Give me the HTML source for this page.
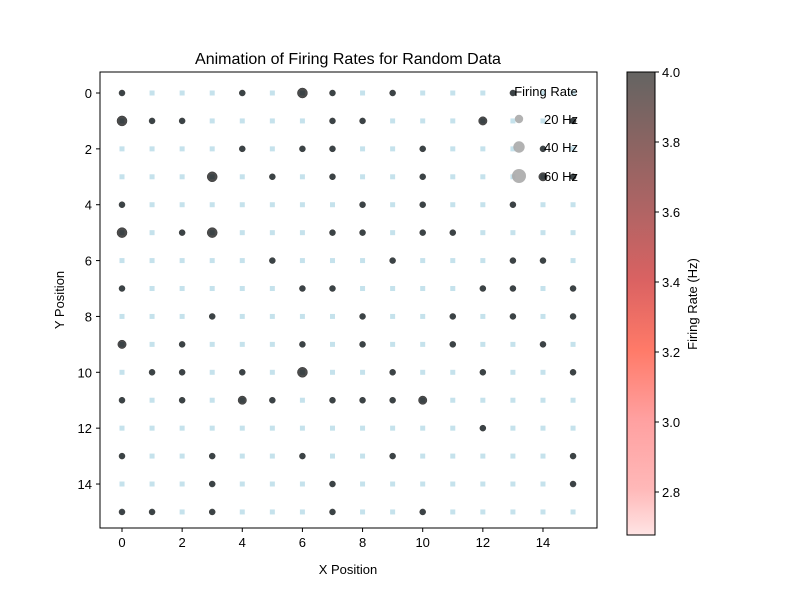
<!DOCTYPE html>
<html><head><meta charset="utf-8"><style>
body{margin:0;background:#fff}
svg{font-family:"Liberation Sans","DejaVu Sans",sans-serif}
</style></head><body>
<svg width="800" height="600" viewBox="0 0 800 600" xmlns="http://www.w3.org/2000/svg">
<defs>
<linearGradient id="cb" x1="0" y1="1" x2="0" y2="0">
<stop offset="0" stop-color="#ffe4e4"/>
<stop offset="0.1" stop-color="#ffb8b8"/>
<stop offset="0.25" stop-color="#ffa0a0"/>
<stop offset="0.4" stop-color="#ff7a68"/>
<stop offset="0.55" stop-color="#da6262"/>
<stop offset="0.7" stop-color="#b06464"/>
<stop offset="0.85" stop-color="#8a6462"/>
<stop offset="1" stop-color="#646462"/>
</linearGradient>
</defs>
<text x="348" y="64" font-size="16" text-anchor="middle">Animation of Firing Rates for Random Data</text>
<g id="plot"></g>
<rect x="100" y="72" width="497" height="456" fill="none" stroke="#000" stroke-width="1"/>
<text x="348" y="574" font-size="13" text-anchor="middle">X Position</text>
<text transform="translate(64,300) rotate(-90)" font-size="13" text-anchor="middle">Y Position</text>
<g>
<text x="546" y="96" font-size="13" text-anchor="middle">Firing Rate</text>
<circle cx="519" cy="119" r="4.2" fill="#aaa" fill-opacity="0.9"/>
<text x="544" y="124" font-size="13">20 Hz</text>
<circle cx="519" cy="147" r="5.7" fill="#aaa" fill-opacity="0.9"/>
<text x="544" y="152" font-size="13">40 Hz</text>
<circle cx="519" cy="176" r="7" fill="#aaa" fill-opacity="0.9"/>
<text x="544" y="181" font-size="13">60 Hz</text>
</g>
<rect x="627" y="72" width="28" height="463" fill="url(#cb)" stroke="#000" stroke-width="1"/>
<g id="cbticks"></g>
<text transform="translate(697,304) rotate(-90)" font-size="13" text-anchor="middle">Firing Rate (Hz)</text>
</svg>
<script>
const xTicks=[0,2,4,6,8,10,12,14];
const yTicks=[0,2,4,6,8,10,12,14];
const cbTicks=["2.8","3.0","3.2","3.4","3.6","3.8","4.0"];
const gridN=16;
const activeX=[0,4,6,7,9,13, 0,1,2,7,8,12,15, 4,6,7,10,14, 3,5,7,10,14,15, 0,8,10,13, 0,2,3,7,8,10,11, 5,9,13,14, 0,6,7,12,13,15, 3,8,11,13,15, 0,2,6,8,11,14, 1,2,4,6,9,12,15, 0,2,4,5,7,8,9,10, 12, 0,3,6,9,15, 3,7,15, 0,1,3,7,10];
const activeY=[0,0,0,0,0,0, 1,1,1,1,1,1,1, 2,2,2,2,2, 3,3,3,3,3,3, 4,4,4,4, 5,5,5,5,5,5,5, 6,6,6,6, 7,7,7,7,7,7, 8,8,8,8,8, 9,9,9,9,9,9, 10,10,10,10,10,10,10, 11,11,11,11,11,11,11,11, 12, 13,13,13,13,13, 14,14,14, 15,15,15,15,15];
const activeSize=[1,1,3,1,1,1, 3,1,1,1,1,2,1, 1,1,1,1,1, 3,1,1,1,2,1, 1,1,1,1, 3,1,3,1,1,1,1, 1,1,1,1, 1,1,1,1,1,1, 1,1,1,1,1, 2,1,1,1,1,1, 1,1,1,3,1,1,1, 1,1,2,1,1,1,1,2, 1, 1,1,1,1,1, 1,1,1, 1,1,1,1,1];
const NS="http://www.w3.org/2000/svg";
const sx=v=>122+v*30.07, sy=v=>93+v*27.93;
const cbY=v=>72+(4.0-v)*350;
const plot=document.getElementById('plot');
function mk(t,a,p){const e=document.createElementNS(NS,t);for(const k in a)e.setAttribute(k,a[k]);p.appendChild(e);return e;}
for(let i=0;i<gridN;i++)for(let j=0;j<gridN;j++){
 const r=mk('rect',{x:sx(i)-2.5,y:sy(j)-2.5,width:5,height:5,fill:'#c5e2ec'},plot);
 
 
}
const radii=[0,3,4.2,5];
for(let k=0;k<activeX.length;k++){
 const c=mk('circle',{cx:sx(activeX[k]),cy:sy(activeY[k]),r:radii[activeSize[k]],fill:'#000','fill-opacity':0.7,stroke:'#333','stroke-width':0.5},plot);
 
 
}
xTicks.forEach(t=>{
 const l=mk('line',{x1:sx(t),x2:sx(t),y1:528,y2:532,stroke:'#000'},plot);
 
 
 const tx=mk('text',{x:sx(t),y:547,'font-size':13,'text-anchor':'middle'},plot);tx.textContent=t;
 
 
});
yTicks.forEach(t=>{
 const l=mk('line',{x1:96,x2:100,y1:sy(t),y2:sy(t),stroke:'#000'},plot);
 
 
 const tx=mk('text',{x:92,y:sy(t)+5,'font-size':13,'text-anchor':'end'},plot);tx.textContent=t;
 
 
});
const cbg=document.getElementById('cbticks');
cbTicks.forEach(t=>{
 const y=cbY(parseFloat(t));
 const l=mk('line',{x1:655,x2:659,y1:y,y2:y,stroke:'#000'},cbg);
 
 
 const tx=mk('text',{x:662,y:y+5,'font-size':13},cbg);tx.textContent=t;
 
 
});
</script>
</body></html>
